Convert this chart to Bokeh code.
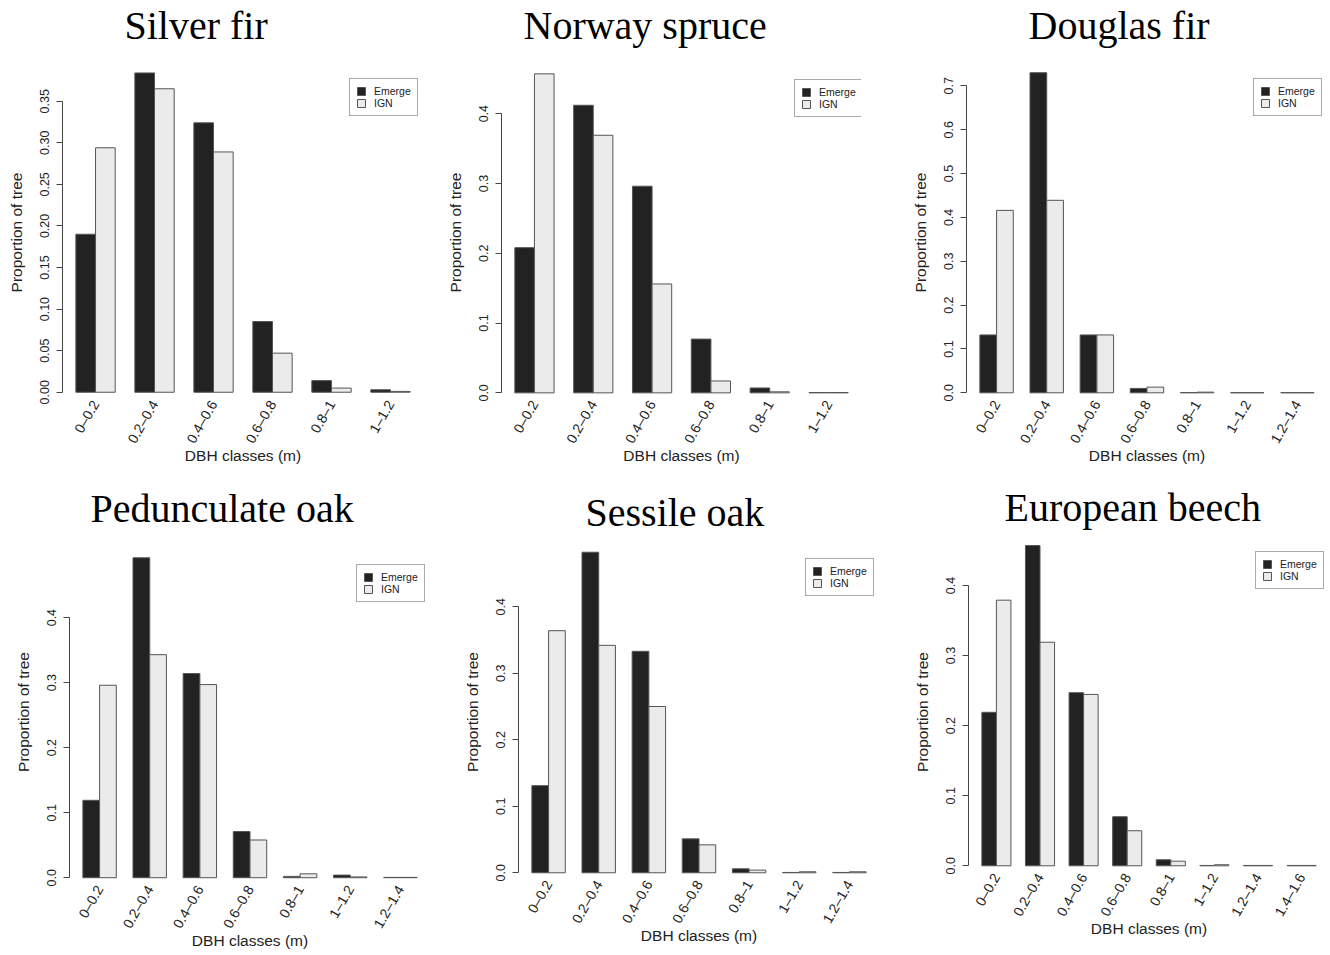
import math
from bokeh.plotting import figure
from bokeh.layouts import row, column
from bokeh.models import Range1d, FixedTicker, PrintfTickFormatter, Title
from bokeh.embed import file_html
from bokeh.resources import INLINE

# ---------------- data ----------------
classes = ["0–0.2", "0.2–0.4", "0.4–0.6", "0.6–0.8", "0.8–1", "1–1.2", "1.2–1.4", "1.4–1.6"]
series_names = ["Emerge", "IGN"]
titles = ["Silver fir", "Norway spruce", "Douglas fir",
          "Pedunculate oak", "Sessile oak", "European beech"]
x_label = "DBH classes (m)"
y_label = "Proportion of tree"

silver_emerge = [0.190, 0.384, 0.324, 0.085, 0.014, 0.003]
silver_ign = [0.294, 0.365, 0.289, 0.047, 0.005, 0.001]

spruce_emerge = [0.208, 0.412, 0.296, 0.077, 0.007, 0.0005]
spruce_ign = [0.457, 0.369, 0.156, 0.017, 0.0015, 0.0005]

douglas_emerge = [0.132, 0.730, 0.132, 0.010, 0.0005, 0.0003, 0.0003]
douglas_ign = [0.416, 0.439, 0.132, 0.013, 0.0015, 0.0003, 0.0003]

pedunculate_emerge = [0.119, 0.492, 0.314, 0.071, 0.002, 0.004, 0.0005]
pedunculate_ign = [0.296, 0.343, 0.297, 0.058, 0.006, 0.0012, 0.0005]

sessile_emerge = [0.131, 0.482, 0.333, 0.051, 0.006, 0.0005, 0.0005]
sessile_ign = [0.364, 0.342, 0.250, 0.042, 0.004, 0.0015, 0.0015]

beech_emerge = [0.219, 0.457, 0.247, 0.070, 0.0086, 0.0005, 0.0005, 0.0005]
beech_ign = [0.379, 0.319, 0.2445, 0.050, 0.0066, 0.0015, 0.0005, 0.0005]

ticks_silver = [0.00, 0.05, 0.10, 0.15, 0.20, 0.25, 0.30, 0.35]
ticks_04 = [0.0, 0.1, 0.2, 0.3, 0.4]
ticks_07 = [0.0, 0.1, 0.2, 0.3, 0.4, 0.5, 0.6, 0.7]

# ---------------- style / layout ----------------
EMERGE_FILL = "#222222"
IGN_FILL = "#ebebeb"
BAR_LINE = "#555555"
TXT = "#222222"
SANS = "Liberation Sans"
SERIF = "Liberation Serif"


def panel(idx, emerge, ign, yticks, fmt, fig, row_frame, region, title_off, title_stand,
          leg_left):
    """fig = (x0, y0, W, H, min_border_top); row_frame = shared (T, B) of the row;
    region = (L, R, t, b): page box of the R-style plot region."""
    x0, y0, W, H, bt = fig
    T, B = row_frame
    L, R, t, b = region
    n = len(emerge)
    span = 3 * n - 1
    M = max(max(emerge), max(ign))
    lo, hi = -0.04 * M, 1.04 * M
    k = (b - t) / (hi - lo)                    # px per unit
    y_start = lo - (B - b) / k
    y_end = hi + (t - T) / k
    zero_px = b + lo * k                       # page y of value 0

    bl = int(round(L - x0))
    br = int(round(x0 + W - R))
    bb = int(round(y0 + H - B))

    p = figure(width=W, height=H, output_backend="svg", toolbar_location=None,
               x_range=Range1d(1 - 0.04 * span, 3 * n + 0.04 * span),
               y_range=Range1d(y_start, y_end),
               min_border_left=bl, min_border_right=br,
               min_border_top=bt, min_border_bottom=bb)
    p.outline_line_color = None
    p.grid.visible = False
    p.background_fill_color = "white"
    p.border_fill_color = "white"

    p.title = Title(text=titles[idx], align="left", offset=title_off, standoff=title_stand,
                    text_font=SERIF, text_font_size="40px", text_font_style="normal",
                    text_color="black")

    xe = [3 * i + 1.5 for i in range(n)]
    xi = [3 * i + 2.5 for i in range(n)]
    p.vbar(x=xe, top=emerge, bottom=0, width=1, fill_color=EMERGE_FILL,
           line_color=BAR_LINE, line_width=1, legend_label=series_names[0])
    p.vbar(x=xi, top=ign, bottom=0, width=1, fill_color=IGN_FILL,
           line_color=BAR_LINE, line_width=1, legend_label=series_names[1])

    # y axis
    ya = p.yaxis[0]
    ya.ticker = FixedTicker(ticks=yticks)
    ya.formatter = PrintfTickFormatter(format=fmt)
    ya.bounds = (yticks[0], yticks[-1])
    ya.major_label_orientation = "vertical"
    ya.major_tick_out = 6
    ya.major_tick_in = 0
    ya.minor_tick_out = 0
    ya.minor_tick_in = 0
    ya.axis_line_color = "#444444"
    ya.major_tick_line_color = "#444444"
    ya.major_label_text_font = SANS
    ya.major_label_text_font_size = "12.5px"
    ya.major_label_text_color = TXT
    ya.major_label_standoff = 7
    ya.axis_label = y_label
    ya.axis_label_text_font = SANS
    ya.axis_label_text_font_size = "15.5px"
    ya.axis_label_text_font_style = "normal"
    ya.axis_label_text_color = TXT
    ya.axis_label_standoff = 13

    # x axis
    xa = p.xaxis[0]
    centers = [3 * i + 2.0 for i in range(n)]
    xa.ticker = FixedTicker(ticks=centers)
    xa.major_label_overrides = {c: classes[i] for i, c in enumerate(centers)}
    xa.major_label_orientation = math.pi / 3
    xa.axis_line_color = None
    xa.major_tick_line_color = None
    xa.minor_tick_line_color = None
    xa.major_tick_out = 0
    xa.major_tick_in = 0
    start = zero_px + 9
    xa.major_label_standoff = int(round(start - B))
    xa.major_label_text_font = SANS
    xa.major_label_text_font_size = "14px"
    xa.major_label_text_color = TXT
    xa.axis_label = x_label
    xa.axis_label_text_font = SANS
    xa.axis_label_text_font_size = "15.5px"
    xa.axis_label_text_font_style = "normal"
    xa.axis_label_text_color = TXT
    xa.axis_label_standoff = int(round((zero_px + 65) - (start + 61.5)))

    # legend
    leg = p.legend[0]
    leg_h = 38
    leg.location = (leg_left, B - (t + 19) - leg_h)
    leg.label_text_font = SANS
    leg.label_text_font_size = "10.5px"
    leg.label_text_color = TXT
    leg.glyph_width = 10
    leg.glyph_height = 10
    leg.label_height = 11
    leg.label_standoff = 8
    leg.padding = 6
    leg.spacing = 0
    leg.margin = 0
    leg.border_line_color = "#555555"
    leg.border_line_width = 1
    leg.background_fill_alpha = 1
    return p


TOP = (46.5, 417)     # frame top (set by the title height) and bottom, top row
BOT = (534, 889)      # bottom row

p1 = panel(0, silver_emerge, silver_ign, ticks_silver, "%.2f",
           (0, 0, 443, 478, 40), TOP, (62.3, 423.4, 59.2, 404.5), 62, 0, 287)
p2 = panel(1, spruce_emerge, spruce_ign, ticks_04, "%.1f",
           (443, 0, 443, 478, 40), TOP, (499.0, 860.8, 60.1, 405.1), 22, 0, 293)
p3 = panel(2, douglas_emerge, douglas_ign, ticks_07, "%.1f",
           (886, 0, 444, 478, 40), TOP, (966.0, 1326.7, 58.9, 405.1), 62, 0, 287)
p4 = panel(3, pedunculate_emerge, pedunculate_ign, ticks_04, "%.1f",
           (0, 478, 443, 477, 56), BOT, (69.3, 430.1, 544.5, 890.0), 21, 7, 287)
p5 = panel(4, sessile_emerge, sessile_ign, ticks_04, "%.1f",
           (443, 478, 443, 477, 56), BOT, (517.7, 878.8, 538.9, 885.1), 67, 0, 287)
p6 = panel(5, beech_emerge, beech_ign, ticks_04, "%.1f",
           (886, 478, 444, 477, 56), BOT, (967.7, 1328.8, 532.2, 878.1), 36, 9, 287)

layout = column(row(p1, p2, p3, spacing=0), row(p4, p5, p6, spacing=0), spacing=0)

html = file_html(layout, INLINE)
html = html.replace("<head>", "<head><style>html,body{margin:0;padding:0;}</style>", 1)
open("out.html", "w").write(html)
